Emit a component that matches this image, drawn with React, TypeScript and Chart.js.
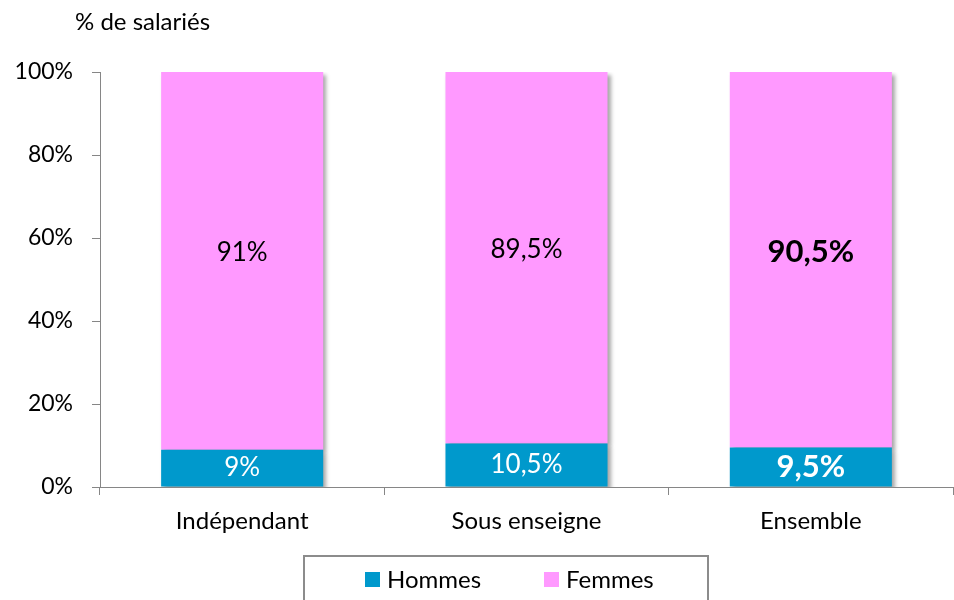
import React, { useEffect, useRef } from "react";
import { Chart, registerables } from "chart.js";
Chart.register(...registerables);

const categories = ["Indépendant", "Sous enseigne", "Ensemble"];
const seriesNames = ["Hommes", "Femmes"];
const hommes = [9, 10.5, 9.5];
const femmes = [91, 89.5, 90.5];
const hommesLabels = ["9%", "10,5%", "9,5%"];
const femmesLabels = ["91%", "89,5%", "90,5%"];
const boldCategory = [false, false, true];
const yTickStep = 20;
const yAxisTitle = "% de salariés";

const BLUE = "#0099CC";
const PINK = "#FF99FF";
const FONT = "Lato, 'Open Sans', sans-serif";

export default function App() {
  const ref = useRef<HTMLCanvasElement | null>(null);

  useEffect(() => {
    document.body.style.margin = "0";
    const canvas = ref.current;
    if (!canvas) return;

    const shadowPlugin = {
      id: "barShadow",
      beforeDatasetsDraw(chart: any) {
        const ctx = chart.ctx;
        ctx.save();
        ctx.shadowColor = "rgba(0,0,0,0.35)";
        ctx.shadowOffsetX = 3;
        ctx.shadowOffsetY = 3;
        ctx.shadowBlur = 4;
      },
      afterDatasetsDraw(chart: any) {
        chart.ctx.restore();
      },
    };

    const labelPlugin = {
      id: "valueLabels",
      afterDatasetsDraw(chart: any) {
        const ctx = chart.ctx;
        const texts = [hommesLabels, femmesLabels];
        const colors = ["#ffffff", "#000000"];
        chart.data.datasets.forEach((ds: any, di: number) => {
          const meta = chart.getDatasetMeta(di);
          meta.data.forEach((el: any, i: number) => {
            const bold = boldCategory[i];
            ctx.save();
            ctx.font = (bold ? "bold 31px " : "26px ") + FONT;
            ctx.fillStyle = colors[di];
            ctx.textAlign = "center";
            ctx.textBaseline = "middle";
            const y = (el.y + el.base) / 2 - (di === 1 ? 8 : 0);
            ctx.fillText(texts[di][i], el.x, y);
            ctx.restore();
          });
        });
      },
    };

    const decoPlugin = {
      id: "deco",
      afterDraw(chart: any) {
        const ctx = chart.ctx;
        ctx.save();
        ctx.font = "24px " + FONT;
        ctx.fillStyle = "#000";
        ctx.textAlign = "left";
        ctx.textBaseline = "middle";
        ctx.fillText(yAxisTitle, 75, 22);
        // legend box
        ctx.strokeStyle = "#8c8c8c";
        ctx.lineWidth = 2;
        ctx.strokeRect(304, 556, 404, 60);
        const items = [
          { sq: 365, tx: 387 },
          { sq: 544, tx: 566 },
        ];
        chart.data.datasets.forEach((ds: any, i: number) => {
          ctx.fillStyle = ds.backgroundColor;
          ctx.fillRect(items[i].sq, 572, 15, 15);
          ctx.fillStyle = "#000";
          ctx.fillText(ds.label, items[i].tx, 580);
        });
        ctx.restore();
      },
    };

    const chart = new Chart(canvas, {
      type: "bar",
      data: {
        labels: categories,
        datasets: [
          { label: seriesNames[0], data: hommes, backgroundColor: BLUE },
          { label: seriesNames[1], data: femmes, backgroundColor: PINK },
        ],
      },
      options: {
        responsive: false,
        animation: false,
        layout: { padding: { top: 72, right: 1, bottom: 0, left: 0 } },
        datasets: { bar: { categoryPercentage: 1, barPercentage: 0.57 } },
        plugins: { legend: { display: false }, tooltip: { enabled: false } },
        scales: {
          x: {
            stacked: true,
            border: { color: "#868686", width: 1 },
            grid: { offset: true, drawOnChartArea: false, drawTicks: true, tickLength: 8, color: "#868686" },
            ticks: { color: "#000", padding: 12, font: { family: FONT, size: 24 } },
            afterFit(scale: any) {
              scale.height = 113;
            },
          },
          y: {
            stacked: true,
            min: 0,
            max: 100,
            border: { color: "#868686", width: 1 },
            grid: { drawOnChartArea: false, drawTicks: true, tickLength: 8, color: "#868686" },
            ticks: {
              stepSize: yTickStep,
              color: "#000",
              padding: 19,
              font: { family: FONT, size: 23 },
              callback: (v: any) => v + "%",
            },
            afterFit(scale: any) {
              scale.width = 100;
            },
          },
        },
      },
      plugins: [shadowPlugin, labelPlugin, decoPlugin],
    });
    return () => chart.destroy();
  }, []);

  return (
    <div style={{ width: 954, height: 600 }}>
      <canvas ref={ref} width={954} height={600} />
    </div>
  );
}
